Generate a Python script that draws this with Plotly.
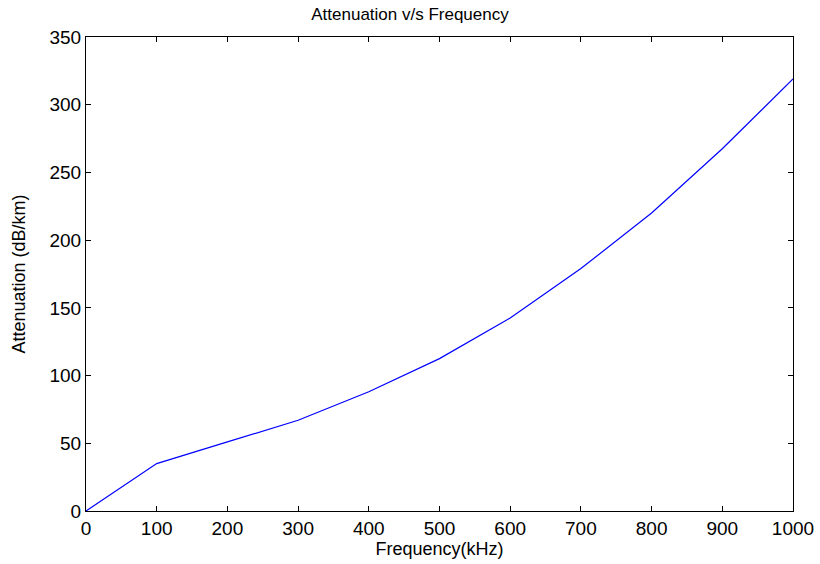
import plotly.graph_objects as go

freq = [0, 100, 200, 300, 400, 500, 600, 700, 800, 900, 1000]
atten = [0, 35, 51, 67, 88, 112.5, 142.5, 179, 220, 267.5, 319]
x_ticks = [0, 100, 200, 300, 400, 500, 600, 700, 800, 900, 1000]
y_ticks = [0, 50, 100, 150, 200, 250, 300, 350]

FAM = "Liberation Sans, Arial, sans-serif"

fig = go.Figure()
fig.add_trace(go.Scatter(x=freq, y=atten, mode="lines",
                         line=dict(color="#0000ff", width=1.2), showlegend=False))

tickfont = dict(family=FAM, size=19, color="black")
axis_common = dict(showline=True, linecolor="black", linewidth=1, mirror="ticks",
                   ticks="inside", ticklen=5, tickcolor="black", showgrid=False,
                   zeroline=False, tickfont=tickfont, automargin=False)

fig.update_layout(
    width=820, height=564,
    margin=dict(l=86, r=27, t=37, b=53, autoexpand=False),
    paper_bgcolor="white", plot_bgcolor="white",
    font=dict(family=FAM, size=18, color="black"),
    title=dict(text="Attenuation v/s Frequency", x=0.5, xanchor="center",
               y=1 - 14 / 564, yanchor="middle", automargin=False,
               font=dict(size=17, color="black", family=FAM)),
    xaxis=dict(range=[0, 1000], tickvals=x_ticks,
               title=dict(text="Frequency(kHz)", standoff=4,
                          font=dict(size=18, family=FAM, color="black")),
               **axis_common),
    yaxis=dict(range=[0, 350], tickvals=y_ticks,
               title=dict(text="Attenuation (dB/km)", standoff=19,
                          font=dict(size=18, family=FAM, color="black")),
               **axis_common),
)

fig.write_html("out.html", config={"displayModeBar": False},
               post_script="document.body.style.margin='0';")
